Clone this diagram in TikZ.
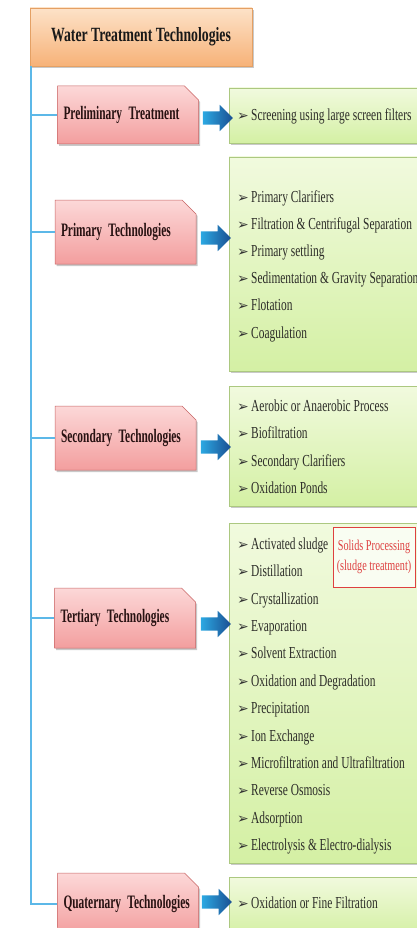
\documentclass[tikz,border=0pt]{standalone}
\usepackage{fontspec}
\setmainfont{Liberation Serif}[FakeStretch=0.68]
\newfontfamily\labelfont{Liberation Serif}[FakeStretch=0.6]
\newfontfamily\bulletfont{DejaVu Sans}
\usetikzlibrary{shapes.misc,shapes.arrows,shadows,calc}

\definecolor{trunkblue}{RGB}{92,184,232}
\definecolor{orangeA}{RGB}{253,226,200}
\definecolor{orangeB}{RGB}{247,178,120}
\definecolor{orangeline}{RGB}{228,160,100}
\definecolor{pinkA}{RGB}{252,216,216}
\definecolor{pinkB}{RGB}{243,158,158}
\definecolor{pinkline}{RGB}{200,100,100}
\definecolor{greenA}{RGB}{241,250,222}
\definecolor{greenB}{RGB}{212,240,164}
\definecolor{greenline}{RGB}{172,200,128}
\definecolor{arrowA}{RGB}{44,168,226}
\definecolor{arrowB}{RGB}{26,78,146}
\definecolor{labeltext}{RGB}{40,18,18}
\definecolor{itemtext}{RGB}{44,44,40}
\definecolor{sludgered}{RGB}{222,64,64}

\newcommand{\itm}{\makebox[14pt][l]{\bulletfont\fontsize{14}{14}\selectfont\color{black!80}➢}}

\tikzset{
  boxshadow/.style={drop shadow={shadow xshift=1.5pt, shadow yshift=-2pt, opacity=0.3, fill=black!70}},
  headbox/.style={rectangle, draw=orangeline, line width=0.6pt,
    top color=orangeA, bottom color=orangeB, inner sep=0pt,
    minimum width=222pt, minimum height=58pt,
    font=\bfseries\fontsize{20.2}{22}\selectfont, text=black!90, boxshadow},
  stagebox/.style={chamfered rectangle, chamfered rectangle corners=north east,
    chamfered rectangle xsep=6pt, chamfered rectangle ysep=8pt,
    draw=pinkline, line width=0.5pt, top color=pinkA, bottom color=pinkB,
    inner xsep=0pt, inner ysep=0pt, text width=129pt, align=left,
    font=\labelfont\bfseries\fontsize{19}{21}\selectfont, text=labeltext, boxshadow},
  listbox/.style={rectangle, draw=greenline, line width=0.5pt,
    top color=greenA, bottom color=greenB, inner sep=0pt,
    minimum width=193pt, boxshadow},
  item/.style={anchor=base west, inner sep=0pt,
    font=\fontsize{16.8}{18}\selectfont, text=itemtext},
  flowarrow/.style={single arrow, single arrow head extend=6.5pt,
    single arrow head indent=0pt, inner xsep=0pt, inner ysep=6.5pt,
    minimum height=30pt, left color=arrowA, right color=arrowB, draw=none},
  tree/.style={draw=trunkblue, line width=1.8pt},
  sludgebox/.style={rectangle, draw=sludgered, line width=0.8pt,
    fill=white!60!greenA, align=center, inner sep=0pt,
    minimum width=82pt, minimum height=60pt,
    font=\fontsize{15}{20.5}\selectfont, text=sludgered}
}

\begin{document}
\begin{tikzpicture}[x=1pt,y=-1pt]
\useasboundingbox (0,0) rectangle (416,928);

% heading
\node[headbox] (title) at (141,37) {Water Treatment Technologies};

% treatment stages
\node[stagebox, minimum height=58pt] (pre) at (128,115) {Preliminary Treatment};
\node[stagebox, minimum height=64pt] (pri) at (125.5,232) {Primary Technologies};
\node[stagebox, minimum height=64pt] (sec) at (125.5,438) {Secondary Technologies};
\node[stagebox, minimum height=60pt] (ter) at (125,618) {Tertiary Technologies};
\node[stagebox, minimum height=62pt] (qua) at (128,904) {Quaternary Technologies};

% trunk and branches
\coordinate (trunk) at ($(title.south west)+(1,0)$);
\draw[tree] (trunk) |- (qua.west);
\foreach \n in {pre,pri,sec,ter}
  \draw[tree] (trunk |- \n.west) -- (\n.west);

% lists of processes
\node[listbox, minimum height=55pt]  (g1) at (325.5,115.5) {};
\node[listbox, minimum height=214pt] (g2) at (325.5,264) {};
\node[listbox, minimum height=120pt] (g3) at (325.5,446) {};
\node[listbox, minimum height=340pt] (g4) at (325.5,693) {};
\node[listbox, minimum height=58pt]  (g5) at (325.5,906) {};

% arrows from stages to lists
\node[flowarrow] (a1) at (214.5,118) {};
\node[flowarrow] (a2) at (212.5,238) {};
\node[flowarrow] (a3) at (212.5,447) {};
\node[flowarrow] (a4) at (212.5,624) {};
\node[flowarrow] (a5) at (213.5,902) {};

% list entries
\node[item] (g1-1) at (237,121) {\itm Screening using\ large screen filters};

\foreach \t [count=\i] in {Primary Clarifiers,
    Filtration \& Centrifugal Separation,
    Primary settling,
    Sedimentation \& Gravity Separation,
    Flotation,
    Coagulation}
  \node[item] (g2-\i) at (237,{202+27.2*(\i-1)}) {\itm\t};

\foreach \t [count=\i] in {Aerobic or Anaerobic Process,
    Biofiltration,
    Secondary Clarifiers,
    Oxidation Ponds}
  \node[item] (g3-\i) at (237,{411.5+27.3*(\i-1)}) {\itm\t};

\foreach \t [count=\i] in {Activated sludge,
    Distillation,
    Crystallization,
    Evaporation,
    Solvent Extraction,
    Oxidation and Degradation,
    Precipitation,
    Ion Exchange,
    Microfiltration and Ultrafiltration,
    Reverse Osmosis,
    Adsorption,
    Electrolysis \& Electro-dialysis}
  \node[item] (g4-\i) at (237,{549.5+27.37*(\i-1)}) {\itm\t};

\node[item] (g5-1) at (237,908.5) {\itm Oxidation or Fine Filtration};

% solids processing note
\node[sludgebox] (sludge) at (374,557) {Solids Processing\\(sludge treatment)};
\end{tikzpicture}
\end{document}
